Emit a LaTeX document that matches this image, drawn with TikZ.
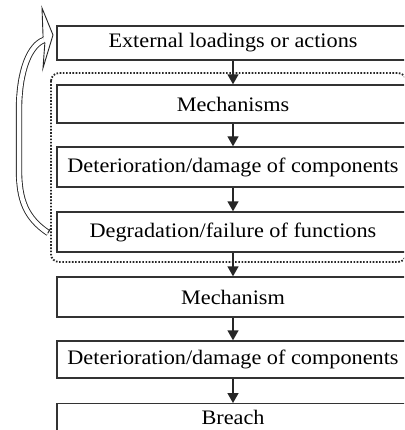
\documentclass[tikz,border=0pt]{standalone}
\usepackage{fontspec}
\setmainfont{Liberation Serif}
\usetikzlibrary{arrows.meta}
\newcommand\widetxt[1]{\scalebox{1.08}[1]{#1}}
\begin{document}
\begin{tikzpicture}[x=1pt,y=-1pt,
  box/.style={draw=black!80, line width=1.4pt, fill=white, minimum width=352pt,
    inner sep=0pt, font=\fontsize{20.6}{23}\selectfont, text=black},
  flow/.style={draw=black!85, line width=1.4pt, -{Triangle[width=11pt,length=10pt]}},
  grp/.style={draw=black!85, line width=1.8pt, dash pattern=on 1.6pt off 1.6pt, rounded corners=8pt},
  loopline/.style={draw=black!85, line width=0.9pt, double=white, double distance=4.5pt},
  looptip/.style={draw=black!85, line width=0.9pt, line join=miter}]
\useasboundingbox (0,0) rectangle (404,430);
\clip (0,0) rectangle (404,430);
\fill[white] (0,0) rectangle (404,430);
% dotted group
\draw[grp] (51,73) rectangle (406,262);
% boxes
\node[box, minimum height=34pt] (b1) at (233,43) {\widetxt{External loadings or actions}};
\node[box, minimum height=38pt] (b2) at (233,104) {\widetxt{Mechanisms}};
\node[box, minimum height=40pt] (b3) at (233,167) {\widetxt{Deterioration/damage of components}};
\node[box, minimum height=40pt] (b4) at (233,232) {\widetxt{Degradation/failure of functions}};
\node[box, minimum height=40pt] (b5) at (233,297) {\widetxt{Mechanism}};
\node[box, minimum height=37pt] (b6) at (233,359.5) {\widetxt{Deterioration/damage of components}};
\node[box, minimum height=38pt, anchor=north] (b7) at (233,403) {};
\node[font=\fontsize{20.6}{23}\selectfont, text=black, anchor=base, inner sep=0pt] (t7) at (233,424.5) {\widetxt{Breach}};
% flow arrows
\draw[flow] (b1.south) -- (b2.north);
\draw[flow] (b2.south) -- (b3.north);
\draw[flow] (b3.south) -- (b4.north);
\draw[flow] (b4.south) -- (b5.north);
\draw[flow] (b5.south) -- (b6.north);
\draw[flow] (b6.south) -- (b7.north);
% hollow feedback arrow
\coordinate (s0) at ([xshift=-8pt,yshift=-1pt]b4.west);
\coordinate (s1) at (44,40);
\draw[loopline] (s0) .. controls (26,218) and (19,200) .. (19,170) -- (19,110)
  .. controls (19,70) and (30,45) .. (s1);
\draw[draw=black!85, line width=0.9pt] (47.7,233.3) -- (50.3,228.7);
\fill[white] (43.1,37.5) -- (42,8) -- (53,35) -- (43,68) -- (44.9,42.5) -- cycle;
\draw[looptip] (43.1,37.5) -- (42,8) -- (53,35) -- (43,68) -- (44.9,42.5);
\end{tikzpicture}
\end{document}
